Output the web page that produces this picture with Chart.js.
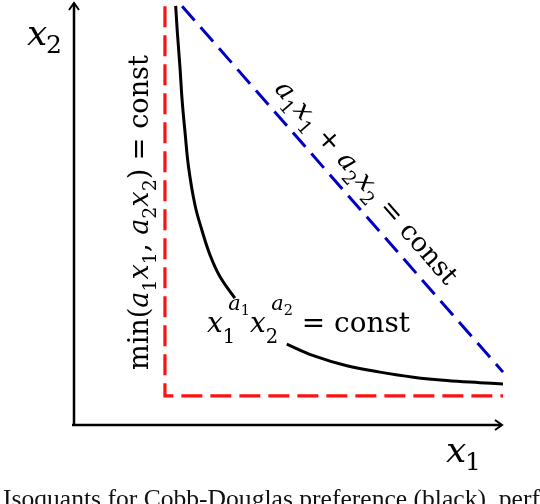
<!DOCTYPE html>
<html lang="en">
  <head>
    <meta charset="UTF-8" />
    <title>Isoquants</title>
    <script src="https://cdn.jsdelivr.net/npm/chart.js"></script>
    <style>
      html, body { margin: 0; padding: 0; background: #fff; }
      #wrap { width: 540px; height: 504px; }
    </style>
  </head>
  <body>
    <div id="wrap"><canvas id="myChart" width="540" height="504"></canvas></div>

    <script>
      // plot units: x1 and x2 both run 0..10

      // perfect complements (red)
      const leontiefX = [2.12, 2.12, 10];
      const leontiefY = [9.9, 0.69, 0.69];

      // perfect substitutes (blue)
      const linearX = [2.52, 10];
      const linearY = [9.9, 1.25];

      // Cobb-Douglas (black), broken where the label sits
      const cobbUpperX = [2.37, 2.41, 2.47, 2.52, 2.59, 2.67, 2.82, 2.98, 3.17, 3.40, 3.75];
      const cobbUpperY = [9.91, 9.27, 8.46, 7.68, 6.90, 6.10, 5.20, 4.61, 4.02, 3.51, 3.00];
      const cobbLowerX = [4.96, 5.58, 6.36, 7.13, 7.91, 8.69, 9.46, 10.0];
      const cobbLowerY = [1.91, 1.64, 1.40, 1.25, 1.13, 1.05, 1.00, 0.97];

      const caption = 'Isoquants for Cobb-Douglas preference (black), perfect substitutes (blue) and perfect complements (red).';

      const pts = (xs, ys) => xs.map((x, i) => ({ x: x, y: ys[i] }));

      // little math text helper: runs of regular / italic / sub / sup
      function drawRuns(ctx, runs, B, draw) {
        let x = 0, prevStart = 0, prevEnd = 0;
        for (const r of runs) {
          const sc = r.sc || 1;
          ctx.font = (r.it ? 'italic ' : '') + (B * sc).toFixed(2) + 'px "DejaVu Serif"';
          const w = ctx.measureText(r.t).width;
          let sx = x;
          if (r.back) sx = prevStart + (prevEnd - prevStart) * 0.45;
          if (draw) ctx.fillText(r.t, sx, (r.dy || 0) * B);
          const end = sx + w;
          x = r.back ? Math.max(end, prevEnd) : end;
          prevStart = sx;
          prevEnd = end;
        }
        return x;
      }
      function fitRuns(ctx, runs, target) {
        return 100 * target / drawRuns(ctx, runs, 100, false);
      }

      const sub = (t) => ({ t: t, sc: 0.7, dy: 0.3 });

      const minRuns = [
        { t: 'min(' }, { t: 'a', it: 1 }, sub('1'), { t: 'x', it: 1 }, sub('1'),
        { t: ', ' }, { t: 'a', it: 1 }, sub('2'), { t: 'x', it: 1 }, sub('2'),
        { t: ') = const' }
      ];
      const sumRuns = [
        { t: 'a', it: 1 }, sub('1'), { t: 'x', it: 1 }, sub('1'), { t: ' + ' },
        { t: 'a', it: 1 }, sub('2'), { t: 'x', it: 1 }, sub('2'), { t: ' = const' }
      ];
      const cobbRuns = [
        { t: 'x', it: 1 }, { t: '1', sc: 0.7, dy: 0.38 },
        { t: 'a', it: 1, sc: 0.75, dy: -0.78, back: 1 }, { t: '1', sc: 0.52, dy: -0.6 },
        { t: 'x', it: 1 }, { t: '2', sc: 0.7, dy: 0.38 },
        { t: 'a', it: 1, sc: 0.75, dy: -0.78, back: 1 }, { t: '2', sc: 0.52, dy: -0.6 },
        { t: ' = const' }
      ];

      const decorations = {
        id: 'decorations',
        afterDraw(chart) {
          const ctx = chart.ctx;
          const xs = chart.scales.x, ys = chart.scales.y;
          const ox = xs.getPixelForValue(0), oy = ys.getPixelForValue(0);
          const xe = xs.getPixelForValue(10), ye = ys.getPixelForValue(10);
          ctx.save();

          // axes with open arrow heads
          ctx.strokeStyle = '#000';
          ctx.lineWidth = 2.5;
          ctx.lineCap = 'butt';
          ctx.beginPath();
          ctx.moveTo(ox, oy + 1);
          ctx.lineTo(ox, ye + 1);
          ctx.moveTo(ox - 2, oy);
          ctx.lineTo(xe - 1, oy);
          ctx.stroke();
          ctx.lineWidth = 2;
          ctx.lineJoin = 'miter';
          ctx.beginPath();
          ctx.moveTo(ox - 5, ye + 8);
          ctx.lineTo(ox, ye + 1);
          ctx.lineTo(ox + 5, ye + 8);
          ctx.moveTo(xe - 8, oy - 5);
          ctx.lineTo(xe - 1, oy);
          ctx.lineTo(xe - 8, oy + 5);
          ctx.stroke();

          ctx.fillStyle = '#000';
          ctx.textBaseline = 'alphabetic';
          ctx.textAlign = 'left';

          // axis names
          ctx.font = 'italic 36px "DejaVu Serif"';
          ctx.fillText('x', 27, 45);
          ctx.font = '25px "DejaVu Serif"';
          ctx.fillText('2', 46, 53);
          ctx.font = 'italic 36px "DejaVu Serif"';
          ctx.fillText('x', 446, 462);
          ctx.font = '25px "DejaVu Serif"';
          ctx.fillText('1', 465, 470);

          // Leontief label, vertical
          let B = fitRuns(ctx, minRuns, 315);
          ctx.save();
          ctx.translate(xs.getPixelForValue(1.72), ys.getPixelForValue(1.3));
          ctx.rotate(-Math.PI / 2);
          drawRuns(ctx, minRuns, B, true);
          ctx.restore();

          // linear label, along the blue line
          const p0x = xs.getPixelForValue(linearX[0]), p0y = ys.getPixelForValue(linearY[0]);
          const p1x = xs.getPixelForValue(linearX[1]), p1y = ys.getPixelForValue(linearY[1]);
          const ang = Math.atan2(p1y - p0y, p1x - p0x);
          const ux = Math.cos(ang), uy = Math.sin(ang);
          const nx = Math.sin(ang), ny = -Math.cos(ang);
          B = fitRuns(ctx, sumRuns, 262);
          ctx.save();
          ctx.translate(p0x + 123 * ux + 14 * nx, p0y + 123 * uy + 14 * ny);
          ctx.rotate(ang);
          drawRuns(ctx, sumRuns, B, true);
          ctx.restore();

          // Cobb-Douglas label
          B = fitRuns(ctx, cobbRuns, 203);
          ctx.save();
          ctx.translate(xs.getPixelForValue(3.1), ys.getPixelForValue(2.2));
          drawRuns(ctx, cobbRuns, B, true);
          ctx.restore();

          // caption, cut by the bottom edge
          ctx.font = '100px "Liberation Serif"';
          const cw = ctx.measureText('Isoquants for Cobb-Douglas preference (black), perf').width;
          ctx.font = (100 * 537 / cw).toFixed(2) + 'px "Liberation Serif"';
          ctx.fillStyle = '#111';
          ctx.fillText(caption, 3, 507);

          ctx.restore();
        }
      };

      const data = {
        datasets: [
          {
            label: 'Perfect complements',
            data: pts(leontiefX, leontiefY),
            borderColor: '#ff1010',
            borderWidth: 3.2,
            borderDash: [21, 8],
            borderJoinStyle: 'miter'
          },
          {
            label: 'Perfect substitutes',
            data: pts(linearX, linearY),
            borderColor: '#0000c4',
            borderWidth: 3,
            borderDash: [19, 9]
          },
          {
            label: 'Cobb-Douglas',
            data: pts(cobbUpperX, cobbUpperY),
            borderColor: '#000',
            borderWidth: 3,
            tension: 0.4
          },
          {
            label: 'Cobb-Douglas (lower)',
            data: pts(cobbLowerX, cobbLowerY),
            borderColor: '#000',
            borderWidth: 3,
            tension: 0.4
          }
        ]
      };

      const config = {
        type: 'scatter',
        data: data,
        options: {
          responsive: false,
          animation: false,
          layout: { padding: { left: 74, right: 37, top: 2, bottom: 79 } },
          showLine: true,
          elements: { point: { radius: 0, hoverRadius: 0 } },
          datasets: { scatter: { showLine: true, clip: false } },
          plugins: { legend: { display: false }, tooltip: { enabled: false } },
          scales: {
            x: { type: 'linear', min: 0, max: 10, display: false },
            y: { type: 'linear', min: 0, max: 10, display: false }
          }
        },
        plugins: [decorations]
      };

      new Chart(document.getElementById('myChart'), config);
    </script>
  </body>
</html>
